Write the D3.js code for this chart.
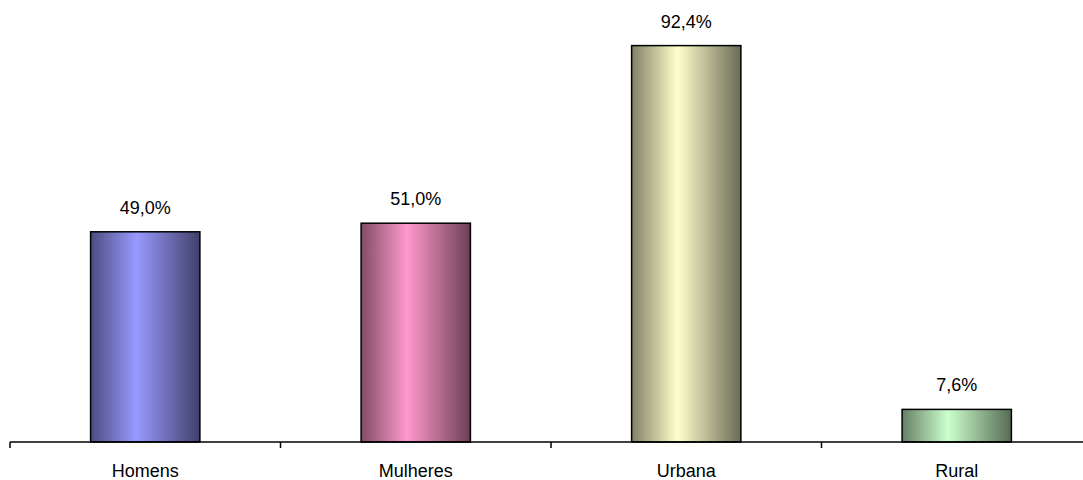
<!DOCTYPE html>
<html>
<head>
<meta charset="utf-8">
<script src="https://cdn.jsdelivr.net/npm/d3@7"></script>
<style>
  html, body { margin: 0; padding: 0; background: #fff; }
  svg { display: block; }
</style>
</head>
<body>
<svg id="chart" width="1083" height="480"></svg>
<script>
// Distribuição da população por sexo e situação de domicílio (%)
const categories = ["Homens", "Mulheres", "Urbana", "Rural"];
const values = [49.0, 51.0, 92.4, 7.6];
const valueLabels = ["49,0%", "51,0%", "92,4%", "7,6%"];
const lightColors = ["#9999ff", "#ff99cc", "#ffffcc", "#ccffcc"];

const svg = d3.select("#chart");
const width = 1083, height = 480;
const margin = { left: 10, right: -9, top: 13, bottom: 38 };

const x = d3.scaleBand()
  .domain(categories)
  .range([margin.left, width - margin.right])
  .paddingInner(0.596)
  .paddingOuter(0.298);

const y = d3.scaleLinear()
  .domain([0, 100])
  .range([height - margin.bottom, margin.top]);

// Horizontal shaded gradients for each bar
const defs = svg.append("defs");
categories.forEach((c, i) => {
  const base = d3.rgb(lightColors[i]);
  const dark = (k) => d3.rgb(base.r * k, base.g * k, base.b * k).toString();
  const g = defs.append("linearGradient")
    .attr("id", "grad" + i)
    .attr("x1", "0%").attr("x2", "100%").attr("y1", "0%").attr("y2", "0%");
  g.append("stop").attr("offset", "0%").attr("stop-color", dark(0.5));
  g.append("stop").attr("offset", "42%").attr("stop-color", base.toString());
  g.append("stop").attr("offset", "100%").attr("stop-color", dark(0.42));
});

// Bars
svg.append("g")
  .selectAll("rect")
  .data(values)
  .join("rect")
  .attr("x", (d, i) => x(categories[i]))
  .attr("y", d => y(d))
  .attr("width", x.bandwidth())
  .attr("height", d => y(0) - y(d))
  .attr("fill", (d, i) => `url(#grad${i})`)
  .attr("stroke", "#000")
  .attr("stroke-width", 1.5);

// Value labels above bars
svg.append("g")
  .selectAll("text")
  .data(values)
  .join("text")
  .attr("x", (d, i) => x(categories[i]) + x.bandwidth() / 2)
  .attr("y", d => y(d) - 18)
  .attr("text-anchor", "middle")
  .attr("font-family", "Liberation Sans, Arial, sans-serif")
  .attr("font-size", 18)
  .attr("fill", "#000")
  .text((d, i) => valueLabels[i]);

// Category axis: baseline, ticks between categories, labels
const axisY = y(0);
const [r0, r1] = x.range();
const step = x.step();
const axisG = svg.append("g");
axisG.append("line")
  .attr("x1", r0).attr("x2", r1)
  .attr("y1", axisY).attr("y2", axisY)
  .attr("stroke", "#000").attr("stroke-width", 1.5);

const tickPositions = d3.range(categories.length + 1).map(k => r0 + k * step);
axisG.selectAll("line.tick")
  .data(tickPositions)
  .join("line")
  .attr("class", "tick")
  .attr("x1", d => d).attr("x2", d => d)
  .attr("y1", axisY).attr("y2", axisY + 6)
  .attr("stroke", "#000").attr("stroke-width", 1.5);

axisG.selectAll("text")
  .data(categories)
  .join("text")
  .attr("x", d => x(d) + x.bandwidth() / 2)
  .attr("y", axisY + 35)
  .attr("text-anchor", "middle")
  .attr("font-family", "Liberation Sans, Arial, sans-serif")
  .attr("font-size", 18)
  .attr("fill", "#000")
  .text(d => d);
</script>
</body>
</html>
